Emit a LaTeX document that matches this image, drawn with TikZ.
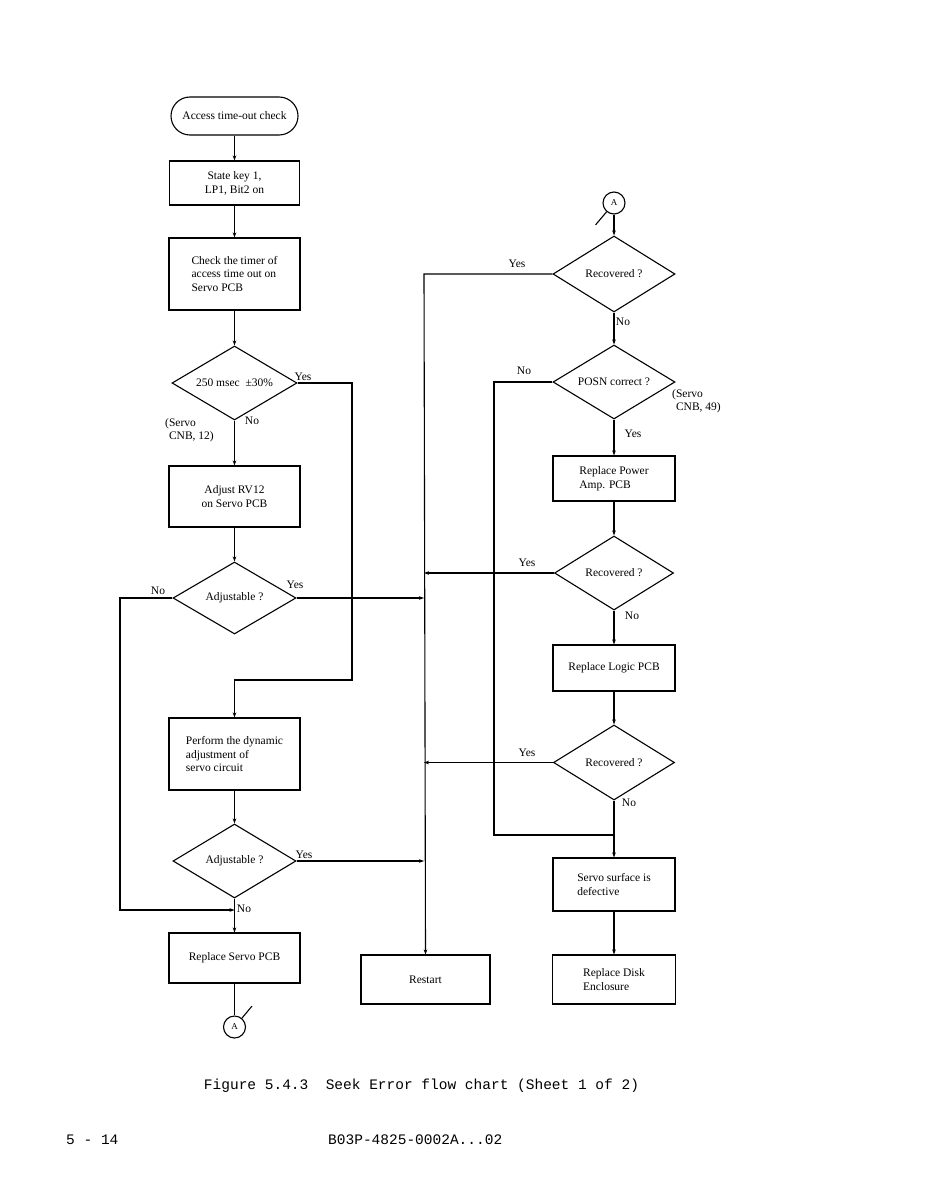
\documentclass[tikz,border=0pt]{standalone}
\usepackage{fontspec}
\setmainfont{Liberation Serif}
\newfontfamily\capfont{Liberation Mono}
\usetikzlibrary{arrows.meta,shapes.geometric}
\tikzset{
  every node/.style={font=\fontsize{11.5}{13.8}\selectfont},
  ln/.style={line width=1.1pt},
  arr/.style={ln,-{Stealth[length=5pt,width=3.6pt]}},
  box/.style={draw,ln,rectangle,inner sep=2pt},
  dec/.style={draw,ln,diamond,aspect=1.7,inner sep=0pt},
  term/.style={draw,ln,rectangle,rounded corners=19pt,minimum width=127pt,minimum height=38pt},
  conn/.style={draw,ln,circle,minimum size=22pt,inner sep=0pt,font=\fontsize{9}{10}\selectfont},
  lbl/.style={inner sep=0pt},
}
\begin{document}
\begin{tikzpicture}[x=1pt,y=-1pt]
\useasboundingbox[fill=white] (0,0) rectangle (929,1193);
% left column
\node[term] (start) at (234.5,116) {Access time-out check};
\node[box,minimum width=130pt,minimum height=44pt,align=center] (b1) at (234.5,183) {State key 1,\\LP1, Bit2 on};
\node[box,minimum width=131pt,minimum height=72pt,align=left] (b2) at (234.5,274) {Check the timer of\\access time out on\\Servo PCB};
\node[dec,minimum width=125pt,minimum height=74pt] (d1) at (234.5,383) {250 msec\ \ ±30\%};
\node[box,minimum width=131pt,minimum height=61pt,align=center] (b3) at (234.5,496.5) {Adjust RV12\\on Servo PCB};
\node[dec,minimum width=123pt,minimum height=72pt] (d2) at (234.5,598) {Adjustable ?};
\node[box,minimum width=131pt,minimum height=72pt,align=left] (b4) at (234.5,754) {Perform the dynamic\\adjustment of\\servo circuit};
\node[dec,minimum width=123pt,minimum height=74pt] (d3) at (234.5,861) {Adjustable ?};
\node[box,minimum width=131pt,minimum height=50pt] (b5) at (234.5,958) {Replace Servo PCB};
\node[conn] (ca1) at (234.5,1027) {A};
% middle
\node[box,minimum width=129pt,minimum height=49pt] (restart) at (425.5,979.5) {Restart};
% right column
\node[conn] (ca2) at (614,203) {A};
\node[dec,minimum width=122pt,minimum height=76pt] (r1) at (614,274) {Recovered ?};
\node[dec,minimum width=122pt,minimum height=74pt] (posn) at (614,382) {POSN correct ?};
\node[box,minimum width=122pt,minimum height=45pt,align=left] (pamp) at (614,478.5) {Replace Power\\Amp. PCB};
\node[dec,minimum width=119pt,minimum height=74pt] (r2) at (614,573) {Recovered ?};
\node[box,minimum width=122pt,minimum height=46pt] (logic) at (614,668) {Replace Logic PCB};
\node[dec,minimum width=121pt,minimum height=75pt] (r3) at (614,762.5) {Recovered ?};
\node[box,minimum width=122pt,minimum height=53pt,align=left] (surf) at (614,884.5) {Servo surface is\\defective};
\node[box,minimum width=123pt,minimum height=49pt,align=left] (disk) at (614,979.5) {Replace Disk\\Enclosure};
% helper coordinates
\coordinate (bus) at (424,274);
\coordinate (joinR) at (614,835);
% left connectors
\draw[arr] (start) -- (b1);
\draw[arr] (b1) -- (b2);
\draw[arr] (b2) -- (d1);
\draw[arr] (d1.south) -- (b3.north);
\draw[arr] (b3) -- (d2);
\draw[arr] (d1.east) -- (352,383) -- (352,680) -- (b4.north |- 0,680) -- (b4.north);
\draw[arr] (d2.east) -- (d2.east -| bus);
\draw[arr] (d2.west) -- (120,598) -- (120,910) -- (234.5,910);
\draw[arr] (b4) -- (d3);
\draw[arr] (d3.south) -- (b5.north);
\draw[arr] (d3.east) -- (d3.east -| bus);
\draw[ln] (b5.south) -- (ca1.north);
\draw[ln] (ca1.50) -- ++(10,-12);
% right connectors
\draw[ln] (ca2.230) -- ++(-11,13);
\draw[arr] (ca2.south) -- (r1.north);
\draw[arr] (r1.west) -- (bus) -- (restart.north);
\draw[arr] (r1.south) -- (posn.north);
\draw[arr] (posn.south) -- (pamp.north);
\draw[ln] (posn.west) -- (494,382) -- (494,835) -- (joinR);
\draw[arr] (pamp) -- (r2);
\draw[arr] (r2.west) -- (r2.west -| bus);
\draw[arr] (r2.south) -- (logic.north);
\draw[arr] (logic) -- (r3);
\draw[arr] (r3.west) -- (r3.west -| bus);
\draw[arr] (r3.south) -- (surf.north);
\draw[arr] (surf) -- (disk);
% labels
\node[lbl] (l1) at (303,377) {Yes};
\node[lbl] (l2) at (252,421) {No};
\node[lbl,anchor=north west,align=left] (l3) at (165,418) {(Servo\\\hphantom{(}CNB, 12)};
\node[lbl] (l4) at (295,585) {Yes};
\node[lbl] (l5) at (158,591) {No};
\node[lbl] (l6) at (304,855) {Yes};
\node[lbl] (l7) at (244,909) {No};
\node[lbl] (l8) at (517,264) {Yes};
\node[lbl] (l9) at (623,322) {No};
\node[lbl] (l10) at (524,371) {No};
\node[lbl] (l11) at (633,434) {Yes};
\node[lbl,anchor=north west,align=left] (l12) at (672,389) {(Servo\\\hphantom{(}CNB, 49)};
\node[lbl] (l13) at (527,563) {Yes};
\node[lbl] (l14) at (632,616) {No};
\node[lbl] (l15) at (527,753) {Yes};
\node[lbl] (l16) at (629,803) {No};
% caption and footer
\node[lbl,font=\capfont\fontsize{14.5}{16}\selectfont] (cap) at (421.5,1086) {Figure 5.4.3\ \ Seek Error flow chart (Sheet 1 of 2)};
\node[lbl,anchor=west,font=\capfont\fontsize{14.5}{16}\selectfont] (pg) at (66,1140) {5 - 14};
\node[lbl,anchor=west,font=\capfont\fontsize{14.5}{16}\selectfont] (doc) at (328,1140) {B03P-4825-0002A...02};
\end{tikzpicture}
\end{document}
